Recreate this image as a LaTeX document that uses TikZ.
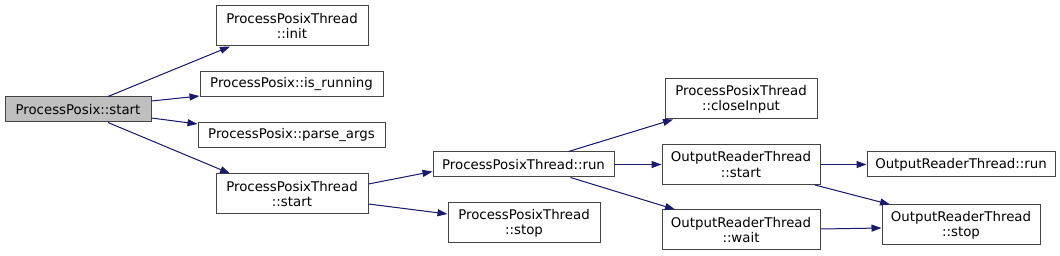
\documentclass[tikz,border=0pt]{standalone}
\usepackage{fontspec}
\setmainfont{DejaVu Sans}
\usetikzlibrary{arrows.meta,calc}
\definecolor{edgec}{HTML}{191970}
\definecolor{boxc}{HTML}{444444}
\definecolor{startfill}{HTML}{BFBFBF}
\begin{document}
\begin{tikzpicture}[x=0.75pt,y=-0.75pt,
  box/.style={draw=boxc, line width=0.75pt, fill=white, inner sep=0pt, align=center,
    font=\fontsize{10}{11.5}\selectfont, minimum height=30pt},
  onebox/.style={box, minimum height=18.75pt},
  call/.style={draw=edgec, line width=0.75pt, -{Triangle[length=7.5pt,width=5.25pt]}, fill=edgec}]
\useasboundingbox (0,0) rectangle (1060,256);
\node[onebox, fill=startfill, minimum width=109.5pt] (start) at (78,109.5) {ProcessPosix::start};
\node[box, minimum width=114pt] (init) at (292,26) {ProcessPosixThread\\::init};
\node[onebox, minimum width=137.25pt] (isrun) at (291.5,84.5) {ProcessPosix::is\_running};
\node[onebox, minimum width=140.25pt] (parse) at (291.5,135.5) {ProcessPosix::parse\_args};
\node[box, minimum width=114pt] (ppts) at (292,194) {ProcessPosixThread\\::start};
\node[onebox, minimum width=135.75pt] (run) at (523.5,164.5) {ProcessPosixThread::run};
\node[box, minimum width=114pt] (stop) at (524,223) {ProcessPosixThread\\::stop};
\node[box, minimum width=114pt] (close) at (741,99) {ProcessPosixThread\\::closeInput};
\node[box, minimum width=118.5pt] (orts) at (741,164.5) {OutputReaderThread\\::start};
\node[box, minimum width=118.5pt] (ortw) at (741,230) {OutputReaderThread\\::wait};
\node[onebox, minimum width=141pt] (ortrun) at (961,164.5) {OutputReaderThread::run};
\node[box, minimum width=118.5pt] (ortstop) at (961,225) {OutputReaderThread\\::stop};

\draw[call] ($(start.north)+(30,0)$) -- ($(init.south)+(-62,0)$);
\draw[call] ($(start.east)+(0,-8.5)$) -- ($(isrun.south west)+(0,-1.5)$);
\draw[call] ($(start.east)+(0,8.5)$) -- ($(parse.north west)+(0,1.5)$);
\draw[call] ($(start.south)+(30,0)$) -- ($(ppts.north)+(-62,0)$);
\draw[call] ($(ppts.east)+(0,-10)$) -- ($(run.west)+(0,7)$);
\draw[call] ($(ppts.east)+(0,10)$) -- ($(stop.west)+(0,-9)$);
\draw[call] ($(run.north)+(45,0)$) -- ($(close.south)+(-68,0)$);
\draw[call] (run.east) -- (orts.west);
\draw[call] ($(run.south)+(47,0)$) -- ($(ortw.north)+(-66,0)$);
\draw[call] (orts.east) -- (ortrun.west);
\draw[call] ($(orts.south)+(74,0)$) -- ($(ortstop.north)+(-71,0)$);
\draw[call] ($(ortw.east)+(0,-1)$) -- ($(ortstop.west)+(0,3)$);
\end{tikzpicture}
\end{document}
